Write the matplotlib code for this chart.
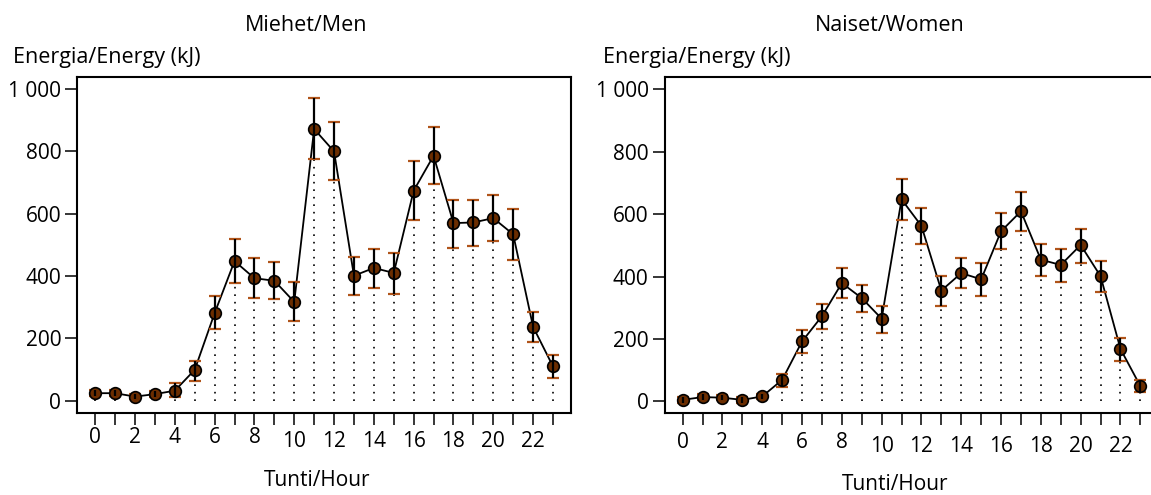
import numpy as np
import matplotlib.pyplot as plt

# energy intake by hour of day, mean with lower/upper confidence limits (kJ)
hours = np.arange(24)

men_mean = [24, 24, 13, 21, 32, 99, 281, 448, 393, 385, 317, 872,
            800, 401, 426, 410, 674, 786, 570, 572, 586, 534, 237, 110]
men_low = [14, 14, 4, 11, 11, 64, 230, 377, 329, 326, 255, 775,
           708, 338, 361, 342, 579, 695, 489, 496, 512, 451, 188, 74]
men_high = [34, 34, 22, 31, 56, 128, 335, 520, 457, 445, 380, 970,
            894, 462, 488, 473, 769, 878, 645, 643, 660, 615, 286, 145]

women_mean = [5, 14, 12, 5, 16, 69, 192, 273, 379, 331, 265, 647,
              562, 355, 411, 391, 545, 609, 454, 437, 501, 401, 168, 49]
women_low = [-4, 5, 3, -4, 7, 47, 155, 232, 331, 286, 218, 582,
             505, 305, 363, 337, 488, 546, 401, 382, 444, 351, 128, 29]
women_high = [14, 23, 21, 14, 25, 89, 229, 311, 427, 372, 305, 711,
              621, 401, 459, 444, 604, 671, 504, 488, 553, 450, 202, 68]

yticks = [0, 200, 400, 600, 800, 1000]
ytick_labels = ['0', '200', '400', '600', '800', '1 000']

MARKER_FACE = '#6b2d00'
CAP_COLOR = '#b0541a'

plt.rcParams['font.family'] = ['Open Sans', 'DejaVu Sans']
plt.rcParams['font.size'] = 15

W, H = 1151, 495
fig = plt.figure(figsize=(W / 100, H / 100), dpi=100)


def px(x, y):
    return x / W, 1 - y / H


def panel(left, bottom_px, mean, low, high, xpad):
    top_px = 77.3
    ax = fig.add_axes([left / W, 1 - bottom_px / H, 493.2 / W, (bottom_px - top_px) / H])
    mean = np.array(mean)
    yerr = [mean - np.array(low), np.array(high) - mean]

    # dotted drop lines from each mean down to zero
    ax.vlines(hours, 0, mean, colors='black', linestyles=(0, (1, 3.5)), linewidth=1.2, zorder=1)
    ax.plot(hours, mean, color='black', linewidth=1.3, zorder=2)
    _, caps, bars = ax.errorbar(hours, mean, yerr=yerr, fmt='none', ecolor='black',
                                elinewidth=1.6, capsize=4.6, capthick=1.6)
    for c in caps:
        c.set_color(CAP_COLOR)
        c.set_markeredgecolor(CAP_COLOR)
        c.set_zorder(3)
    for b in bars:
        b.set_zorder(5)
    ax.plot(hours, mean, linestyle='none', marker='o', markersize=8.4,
            markerfacecolor=MARKER_FACE, markeredgecolor='black', markeredgewidth=1.2, zorder=4)

    ax.set_xlim(-0.9, 23.88)
    ax.set_ylim(-38, 1038)
    ax.set_xticks(hours)
    ax.set_xticklabels([str(h) if h % 2 == 0 else '' for h in hours])
    ax.set_yticks(yticks)
    ax.set_yticklabels(ytick_labels)
    ax.tick_params(axis='both', direction='out', length=8.5, width=1.1, labelsize=15)
    ax.tick_params(axis='y', pad=3)
    ax.tick_params(axis='x', pad=xpad)
    # two-digit hour labels sit a little lower
    for h, t in zip(hours, ax.xaxis.get_major_ticks()):
        if h >= 10:
            t.set_pad(xpad + 3)
    for s in ax.spines.values():
        s.set_linewidth(1.5)
    return ax


ax1 = panel(77.3, 412.5, men_mean, men_low, men_high, 2)
ax2 = panel(664.7, 413.3, women_mean, women_low, women_high, 5)

fig.text(*px(245, 30.7), 'Miehet/Men', fontsize=15.5, ha='left', va='baseline')
fig.text(*px(815, 30.7), 'Naiset/Women', fontsize=15.5, ha='left', va='baseline')
fig.text(*px(12.7, 63.3), 'Energia/Energy (kJ)', fontsize=15.5, ha='left', va='baseline')
fig.text(*px(602.7, 63.3), 'Energia/Energy (kJ)', fontsize=15.5, ha='left', va='baseline')
fig.text(*px(317, 480), 'Tunti/Hour', fontsize=15, ha='center', va='center')
fig.text(*px(895, 485), 'Tunti/Hour', fontsize=15, ha='center', va='center')

fig.savefig('out.png', dpi=100)
